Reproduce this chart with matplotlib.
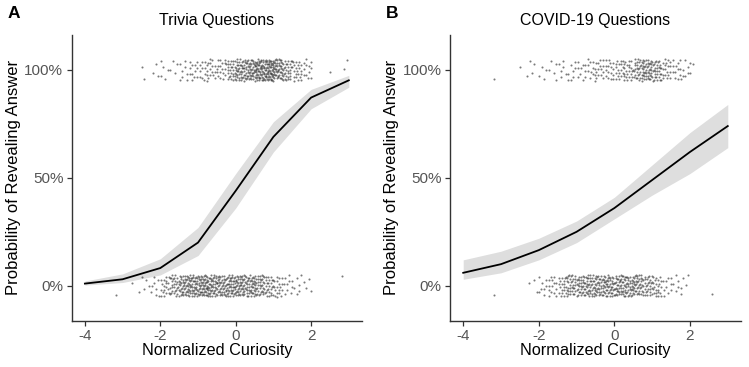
import numpy as np
import matplotlib
matplotlib.use("Agg")
import matplotlib.pyplot as plt

plt.rcParams['font.family'] = ['Liberation Sans', 'DejaVu Sans']

# ---- model curves ----
x_grid = [-4, -3, -2, -1, 0, 1, 2, 3]
trivia_fit = [0.010, 0.030, 0.082, 0.200, 0.440, 0.690, 0.872, 0.952]
trivia_lo = [0.003, 0.015, 0.050, 0.140, 0.360, 0.620, 0.820, 0.920]
trivia_hi = [0.022, 0.055, 0.125, 0.270, 0.520, 0.760, 0.910, 0.975]
covid_fit = [0.060, 0.100, 0.165, 0.250, 0.360, 0.490, 0.620, 0.740]
covid_lo = [0.030, 0.060, 0.120, 0.200, 0.310, 0.420, 0.520, 0.640]
covid_hi = [0.120, 0.160, 0.220, 0.300, 0.410, 0.560, 0.710, 0.840]

# ---- raw observations: counts per 0.25-wide curiosity bin starting at -3.5 ----
bin_start = -3.5
bin_width = 0.25
trivia_revealed_counts = [0, 0, 0, 0, 2, 3, 5, 4, 8, 12, 14, 14, 16, 28, 40, 45,
                          55, 60, 45, 30, 20, 12, 0, 0, 1, 2]
trivia_hidden_counts = [0, 1, 0, 2, 4, 8, 18, 30, 40, 45, 50, 45, 40, 45, 45, 40,
                        35, 28, 18, 10, 6, 4, 0, 0, 0, 1]
covid_revealed_counts = [0, 1, 0, 0, 2, 3, 4, 5, 6, 8, 10, 12, 14, 16, 18, 22,
                         32, 38, 32, 18, 12, 8, 2, 0, 0, 0]
covid_hidden_counts = [0, 1, 0, 0, 0, 3, 8, 14, 22, 30, 36, 38, 38, 40, 40, 38,
                       36, 30, 22, 10, 6, 4, 0, 0, 1, 0]

panels = [
    ("A", "Trivia Questions", trivia_fit, trivia_lo, trivia_hi,
     trivia_revealed_counts, trivia_hidden_counts, (71.7, 362.0)),
    ("B", "COVID-19 Questions", covid_fit, covid_lo, covid_hi,
     covid_revealed_counts, covid_hidden_counts, (450.0, 741.0)),
]

W, H = 749, 367
fig = plt.figure(figsize=(W / 100, H / 100), dpi=100)

ax_top, ax_bot = 35.0, 320.7
a1, a2 = 0.7548776662, 0.5698402910


def band_points(counts, center, hwidth=0.05):
    xs, ys = [], []
    k = 0
    for b, n in enumerate(counts):
        left = bin_start + b * bin_width
        for i in range(n):
            k += 1
            fx = (0.5 + k * a1) % 1.0
            fy = (0.5 + k * a2) % 1.0
            xs.append(left + fx * bin_width)
            ys.append(center + (fy * 2 - 1) * hwidth)
    return xs, ys


for label, title, fit, lo, hi, rev, hid, (px0, px1) in panels:
    ax = fig.add_axes([px0 / W, (H - ax_bot) / H, (px1 - px0) / W, (ax_bot - ax_top) / H])
    ax.fill_between(x_grid, lo, hi, color='#DEDEDE', linewidth=0, zorder=1)
    for counts, c in ((rev, 1.0), (hid, 0.0)):
        xs, ys = band_points(counts, c)
        ax.scatter(xs, ys, s=2.2, color='#222222', alpha=0.6, linewidths=0, zorder=2)
    ax.plot(x_grid, fit, color='black', linewidth=1.3, zorder=3)

    ax.set_xlim(-4.35, 3.35)
    ax.set_ylim(-0.162, 1.162)
    ax.set_xticks([-4, -2, 0, 2])
    ax.set_xticklabels(['-4', '-2', '0', '2'])
    ax.set_yticks([0, 0.5, 1.0])
    ax.set_yticklabels(['0%', '50%', '100%'])
    for s in ('top', 'right'):
        ax.spines[s].set_visible(False)
    for s in ('left', 'bottom'):
        ax.spines[s].set_color('#333333')
        ax.spines[s].set_linewidth(1.0)
    ax.tick_params(axis='both', colors='#333333', length=3.5, width=0.9,
                   labelsize=11, labelcolor='#555555', pad=2.5)

    cx = (px0 + px1) / 2
    fig.text(cx / W, 1 - 21 / H, title, ha='center', va='center', fontsize=11.5)
    fig.text(cx / W, 1 - 351 / H, "Normalized Curiosity", ha='center', va='center', fontsize=11.7)
    fig.text((px0 - 58) / W, 1 - (ax_top + ax_bot) / 2 / H, "Probability of Revealing Answer",
             ha='center', va='center', rotation=90, fontsize=12)
    fig.text((px0 - 64) / W, 1 - 13 / H, label, ha='left', va='center',
             fontsize=12.5, fontweight='bold')

fig.savefig("out.png", dpi=100)
